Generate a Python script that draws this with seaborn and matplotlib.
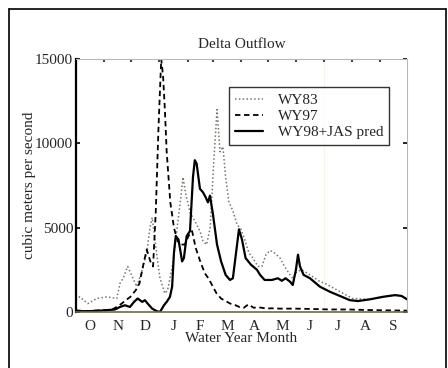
import matplotlib
matplotlib.use("Agg")
import matplotlib.pyplot as plt
from matplotlib.lines import Line2D
import numpy as np
import pandas as pd
import seaborn as sns

# Delta outflow by day of water year (day 0 = 1 October)
wy83_day = [0, 4, 13, 23, 34, 45, 48.5, 52, 57, 59.5, 67, 73, 78, 81.6, 84, 87, 90,
            92.6, 98, 101, 107, 111, 115, 118, 121, 125.7, 131, 136.7, 140, 144, 148,
            152, 155.5, 158.8, 162, 165, 168.7, 173, 177.5, 182, 186, 190.7, 195,
            200.7, 205, 209.5, 214, 219, 225, 230, 236, 239, 243.6, 249, 258, 269,
            274.5, 288, 305, 324, 338.5, 349.5, 357, 365]
wy83_cms = [700, 900, 500, 800, 900, 800, 1700, 2000, 2700, 2400, 1500, 2500, 3500,
            5000, 5600, 4300, 3000, 2000, 1100, 1300, 2900, 4800, 6500, 8000, 7000,
            5900, 5400, 4800, 4200, 4000, 5000, 9000, 12000, 9500, 9800, 8000, 6500,
            6000, 5200, 4900, 4300, 3500, 3200, 2700, 2700, 3400, 3650, 3500, 3200,
            2700, 2200, 2000, 2400, 2500, 2200, 1800, 1700, 1300, 800, 750, 900,
            1000, 1000, 800]

wy97_day = [0, 10, 20, 30, 40, 48, 55, 60, 66, 70, 75, 78, 82, 85, 88, 91, 94, 96,
            98, 100, 104, 108, 112, 116, 120, 124, 128, 132, 137, 142, 146, 150, 155,
            160, 165, 170, 176, 180, 185, 190, 196, 200, 205, 210, 215, 225, 240,
            260, 280, 300, 320, 340, 365]
wy97_cms = [100, 50, 80, 100, 150, 400, 700, 900, 1300, 1700, 3000, 3700, 3000, 2700,
            6000, 11000, 15000, 14000, 12000, 9500, 6500, 5000, 4200, 4000, 4000,
            4500, 4800, 3800, 3000, 2300, 2000, 1600, 1100, 800, 650, 500, 400, 300,
            250, 450, 250, 280, 250, 200, 220, 200, 200, 180, 150, 150, 120, 100, 80]

wy98_day = [0, 15, 32, 43, 48.5, 54, 59.5, 64, 68, 73, 76, 79, 84, 89, 92.6, 97, 100,
            103.6, 106, 108, 110, 113, 117, 119, 122, 125.7, 129, 131, 133, 136.7,
            140, 143, 145.5, 147.7, 151, 155.5, 160, 165, 169.8, 173, 176, 179.7, 183,
            187, 193, 199.6, 203, 208, 216, 222.7, 227, 231, 236, 239, 242.5, 244.8,
            247, 251, 258, 269, 280, 291, 302, 311, 324, 338.5, 351.7, 359, 365]
wy98_cms = [50, 50, 100, 150, 300, 400, 300, 600, 800, 600, 700, 500, 200, 50, 0, 400,
            600, 900, 1500, 3500, 4500, 4300, 3000, 3200, 4500, 4800, 8000, 9000,
            8800, 7300, 7100, 6800, 6500, 6900, 5800, 4000, 3000, 2200, 1900, 2000,
            3300, 4900, 4300, 3200, 2800, 2500, 2200, 1900, 1900, 2000, 1850, 2000,
            1800, 1600, 2500, 3400, 2700, 2200, 2000, 1500, 1200, 950, 700, 650, 750,
            900, 1000, 950, 750]

series_names = ["WY83", "WY97", "WY98+JAS pred"]
month_labels = ["O", "N", "D", "J", "F", "M", "A", "M", "J", "J", "A", "S"]
month_starts = [0, 31, 61, 92, 123, 151, 182, 212, 243, 273, 304, 335, 365]
y_ticks = [0, 5000, 10000, 15000]

frames = []
for name, d, v in zip(series_names, [wy83_day, wy97_day, wy98_day],
                      [wy83_cms, wy97_cms, wy98_cms]):
    frames.append(pd.DataFrame({"day": d, "flow": v, "series": name}))
df = pd.concat(frames, ignore_index=True)

sns.set_style("white")
plt.rcParams["font.family"] = ["Liberation Serif", "DejaVu Serif"]
plt.rcParams["font.size"] = 11

fig = plt.figure(figsize=(4.48, 3.68), dpi=100)
ax = fig.add_axes([76 / 448, 56 / 368, 331 / 448, 253 / 368])

styles = {
    "WY83": dict(color="#6f7a6a", linestyle=(0, (1, 1.5)), linewidth=1.1),
    "WY97": dict(color="black", linestyle=(0, (3, 2)), linewidth=1.3),
    "WY98+JAS pred": dict(color="black", linestyle="-", linewidth=1.6),
}
for name in series_names:
    sub = df[df["series"] == name]
    sns.lineplot(data=sub, x="day", y="flow", ax=ax, estimator=None, sort=False,
                 label=name, **styles[name])

# faint marker at the start of the July-September prediction period
ax.axvline(273, color="#f8f4ea", linewidth=0.8, zorder=0)

ax.set_xlim(0, 365)
ax.set_ylim(0, 15000)
ax.set_yticks(y_ticks)
ax.set_yticklabels([str(t) for t in y_ticks])

mid_months = [(a + b) / 2 for a, b in zip(month_starts[:-1], month_starts[1:])]
ax.set_xticks(mid_months)
ax.set_xticklabels(month_labels)
ax.set_xticks(month_starts[1:-1], minor=True)
ax.tick_params(axis="x", which="major", length=0, pad=6)
ax.tick_params(axis="x", which="minor", direction="in", top=True, bottom=False,
               length=2.5, width=1.5, color="#444444")
ax.tick_params(axis="y", which="major", direction="in", left=True, right=True,
               length=3, width=1.2, pad=2, color="black")

ax.set_title("Delta Outflow", fontsize=11, pad=8)
ax.set_xlabel("Water Year Month", fontsize=11, labelpad=-1)
ax.set_ylabel("cubic meters per second", fontsize=11, labelpad=-1)

for side in ["top", "right"]:
    ax.spines[side].set_color("#b8b8b8")
    ax.spines[side].set_linewidth(0.8)
ax.spines["left"].set_color("black")
ax.spines["left"].set_linewidth(1.6)
ax.spines["bottom"].set_color("#6e6a48")
ax.spines["bottom"].set_linewidth(1.2)

leg = ax.legend(loc="upper left", bbox_to_anchor=(0.462, 0.889), borderaxespad=0,
                frameon=True, fancybox=False, edgecolor="black", fontsize=11,
                handlelength=1.8, handletextpad=1.0, labelspacing=0.15,
                borderpad=0.4)
leg.get_frame().set_linewidth(1.0)

# outer border around the figure
fx0, fx1, fy1 = 9 / 448, 446 / 448, 1 - 9 / 368
for xs, ys in [([fx0, fx0], [-0.01, fy1]), ([fx0, fx1], [fy1, fy1]),
               ([fx1, fx1], [fy1, -0.01])]:
    fig.add_artist(Line2D(xs, ys, transform=fig.transFigure, color="black",
                          linewidth=1.2))

fig.savefig("out.png", dpi=100)
